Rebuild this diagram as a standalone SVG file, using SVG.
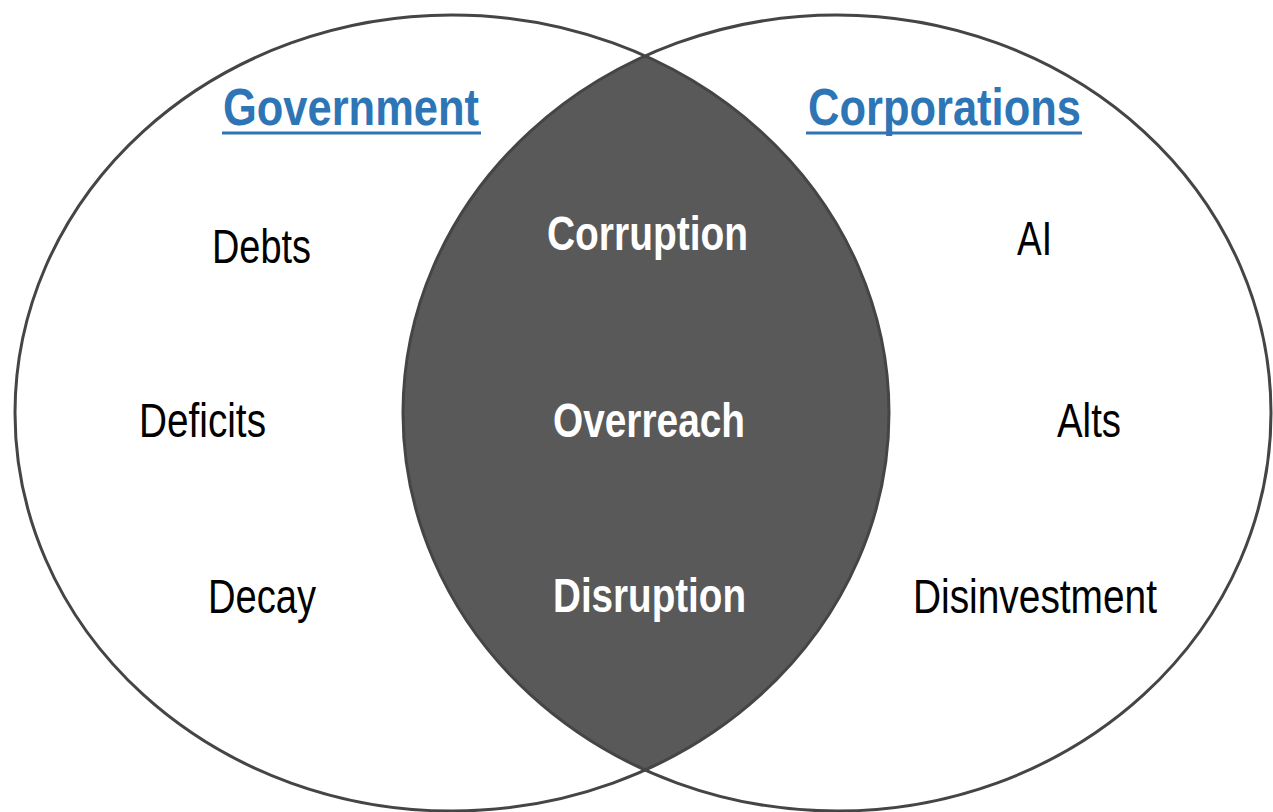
<svg xmlns="http://www.w3.org/2000/svg" width="1273" height="812" viewBox="0 0 1273 812">
<style>
.ring{fill:none;stroke:#454545;stroke-width:3}
.t{font-family:"Liberation Sans Narrow","Liberation Sans",Arial,sans-serif;font-size:48px;fill:#000}
.w{font-family:"Liberation Sans Narrow","Liberation Sans",Arial,sans-serif;font-size:48px;font-weight:bold;fill:#fff}
.h{font-family:"Liberation Sans Narrow","Liberation Sans",Arial,sans-serif;font-size:52px;font-weight:bold;fill:#2E75B6}
</style>
<defs>
<clipPath id="clipL"><ellipse cx="452" cy="413" rx="437" ry="398"/></clipPath>
</defs>
<rect width="1273" height="812" fill="#fff"/>
<g id="overlap">
<ellipse cx="837" cy="413" rx="434" ry="398" fill="#595959" clip-path="url(#clipL)"/>
</g>
<g id="government">
<ellipse class="ring" cx="452" cy="413" rx="437" ry="398"/>
<text class="h" x="223" y="125" textLength="256" lengthAdjust="spacingAndGlyphs">Government</text>
<rect x="222" y="131.5" width="259" height="3" fill="#2E75B6"/>
<text class="t" x="212" y="263" textLength="99" lengthAdjust="spacingAndGlyphs">Debts</text>
<text class="t" x="139" y="437" textLength="127" lengthAdjust="spacingAndGlyphs">Deficits</text>
<text class="t" x="208" y="613" textLength="108" lengthAdjust="spacingAndGlyphs">Decay</text>
</g>
<g id="corporations">
<ellipse class="ring" cx="837" cy="413" rx="434" ry="398"/>
<text class="h" x="808" y="125" textLength="273" lengthAdjust="spacingAndGlyphs">Corporations</text>
<rect x="806" y="131.5" width="276" height="3" fill="#2E75B6"/>
<text class="t" x="1017" y="255" textLength="35" lengthAdjust="spacingAndGlyphs">AI</text>
<text class="t" x="1057" y="437" textLength="64" lengthAdjust="spacingAndGlyphs">Alts</text>
<text class="t" x="913" y="613" textLength="244" lengthAdjust="spacingAndGlyphs">Disinvestment</text>
</g>
<g id="intersection-labels">
<text class="w" x="547" y="250" textLength="201" lengthAdjust="spacingAndGlyphs">Corruption</text>
<text class="w" x="553" y="437" textLength="192" lengthAdjust="spacingAndGlyphs">Overreach</text>
<text class="w" x="553" y="612" textLength="193" lengthAdjust="spacingAndGlyphs">Disruption</text>
</g>
<g id="connectors"/>
</svg>
